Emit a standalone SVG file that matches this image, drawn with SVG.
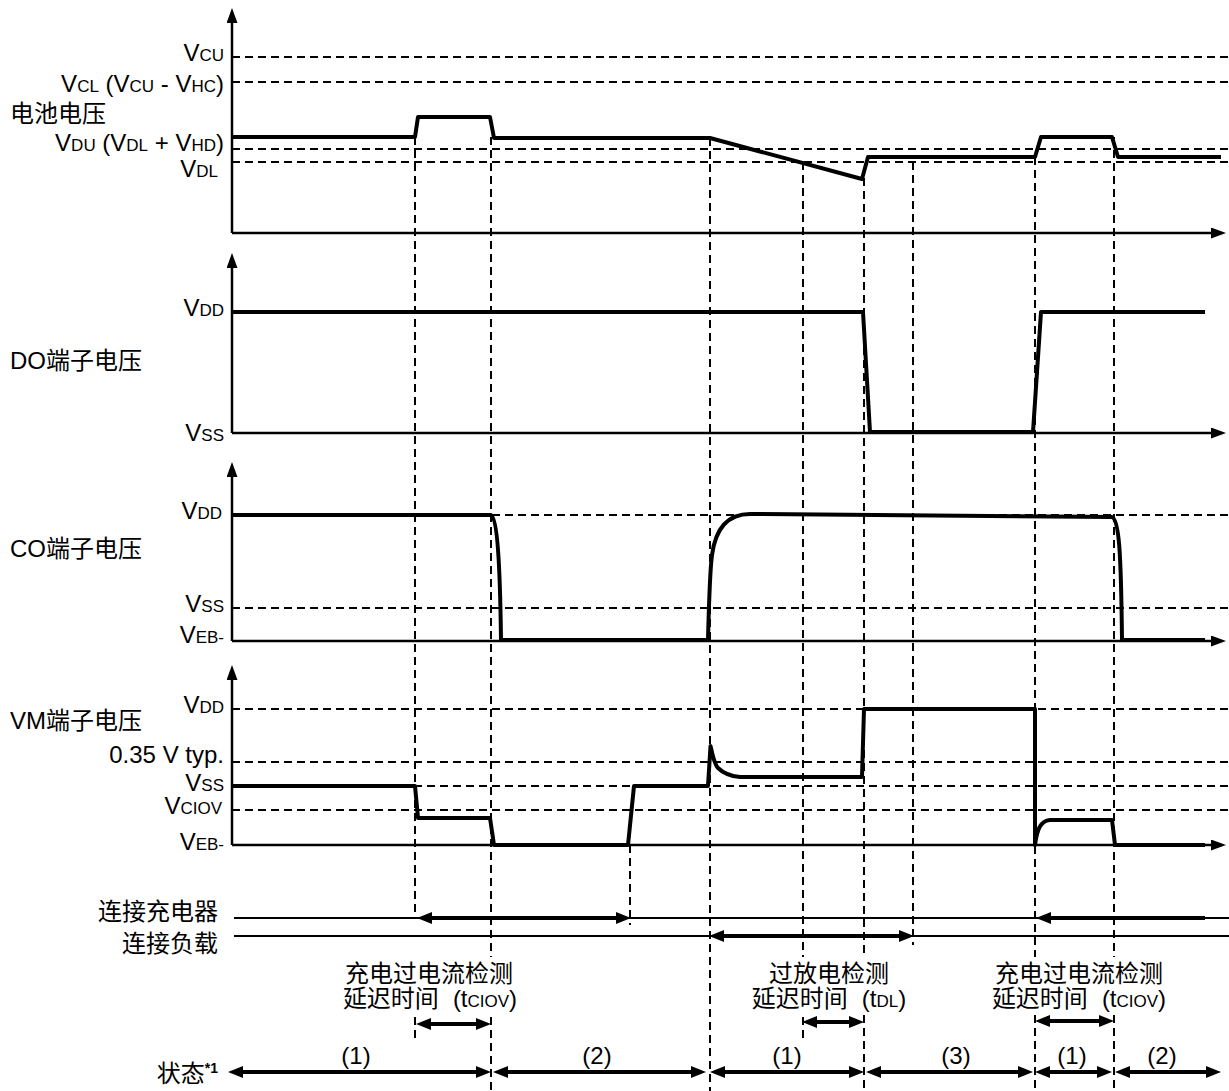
<svg xmlns="http://www.w3.org/2000/svg" width="1229" height="1091" viewBox="0 0 1229 1091">
<style>
.t{font-family:"Liberation Sans","Noto Sans CJK SC",sans-serif;font-size:24px;fill:#000}
.s{font-size:17px}
.axis{stroke:#000;stroke-width:2.5;fill:none}
.dash{stroke:#000;stroke-width:2;stroke-dasharray:8 5;fill:none}
.wave{stroke:#000;stroke-width:4;fill:none;stroke-linejoin:round}
.thin{stroke:#000;stroke-width:2;fill:none}
.arr{stroke:#000;stroke-width:4;fill:none;marker-start:url(#ah);marker-end:url(#ah)}
.arr1{stroke:#000;stroke-width:4;fill:none;marker-start:url(#ah)}
</style>
<defs>
<marker id="ah" markerUnits="userSpaceOnUse" markerWidth="16" markerHeight="12" refX="4" refY="6" orient="auto-start-reverse"><path d="M0,0 L15,6 L0,12 z" fill="#000"/></marker>
<marker id="ax" markerUnits="userSpaceOnUse" markerWidth="16" markerHeight="12" refX="3" refY="5.5" orient="auto"><path d="M0,0 L15,5.5 L0,11 z" fill="#000"/></marker>
</defs>
<rect width="1229" height="1091" fill="#fff"/>

<g id="guides">
<path class="dash" d="M232,57H1229M232,82H1229M232,149H1229M232,162H1229"/>
<path class="dash" d="M232,515H1229M232,608H1229"/>
<path class="dash" d="M232,709H1229M232,762H1229M232,786H1229M232,810H1229"/>
<path class="dash" d="M415,137V917M415,1017V1043M491,137V957M491,1017V1091M630,845V925M710,138V1091M803,162V957M803,1017V1043M864,178V957M864,1015V1091M913,162V945M1035,157V957M1035,1015V1091M1114,137V957M1114,1015V1091"/>
</g>

<g id="axes">
<path class="axis" d="M232,233V20" marker-end="url(#ax)"/>
<path class="axis" d="M232,233H1214" marker-end="url(#ax)"/>
<path class="axis" d="M232,433V265" marker-end="url(#ax)"/>
<path class="axis" d="M232,433H1214" marker-end="url(#ax)"/>
<path class="axis" d="M232,641V474" marker-end="url(#ax)"/>
<path class="axis" d="M232,641H1214" marker-end="url(#ax)"/>
<path class="axis" d="M232,845V677" marker-end="url(#ax)"/>
<path class="axis" d="M232,845H1214" marker-end="url(#ax)"/>
</g>

<g id="waveforms">
<path id="battery" class="wave" d="M232,137H415L418,117H490L494,138H710L862,179L868,157H1035L1041,137H1112L1118,157H1221"/>
<path id="do" class="wave" d="M232,312H863L870,432H1033L1041,312H1205"/>
<path id="co" class="wave" d="M232,515H491C497,518 500,560 501,640H708C709,600 710,570 712,555C716,525 730,514 750,514L1112,517C1119,520 1121,550 1122,640H1205"/>
<path id="vm" class="wave" d="M232,786H415L418,818H490L494,845H628L634,786H708L710.5,746C712,752 714,764 718,768C724,774 730,776 740,777H862L864,709H1035V845C1037,830 1040,821 1050,820H1112L1115,845H1205"/>
</g>

<g id="connectors">
<path class="thin" d="M234,918H1229M234,936H1229"/>
<path class="arr" d="M428,918H620"/>
<path class="arr1" d="M1047,918H1205"/>
<path class="arr" d="M720,936H903"/>
<path class="arr" d="M427,1024H480"/>
<path class="arr" d="M813,1022H853"/>
<path class="arr" d="M1046,1021H1103"/>
<path class="arr" d="M239,1072H480"/>
<path class="arr" d="M504,1072H695"/>
<path class="arr" d="M721,1072H853"/>
<path class="arr" d="M877,1072H1022"/>
<path class="arr" d="M1046,1072H1101"/>
<path class="arr" d="M1126,1072H1210"/>
</g>

<g id="labels" class="t">
<text x="224" y="61" text-anchor="end">V<tspan class="s">CU</tspan></text>
<text x="224" y="92" text-anchor="end">V<tspan class="s">CL</tspan> (V<tspan class="s">CU</tspan> - V<tspan class="s">HC</tspan>)</text>
<text x="10" y="122">电池电压</text>
<text x="224" y="151" text-anchor="end">V<tspan class="s">DU</tspan> (V<tspan class="s">DL</tspan> + V<tspan class="s">HD</tspan>)</text>
<text x="218" y="177" text-anchor="end">V<tspan class="s">DL</tspan></text>

<text x="224" y="316" text-anchor="end">V<tspan class="s">DD</tspan></text>
<text x="10" y="369">DO端子电压</text>
<text x="224" y="441" text-anchor="end">V<tspan class="s">SS</tspan></text>

<text x="222" y="519" text-anchor="end">V<tspan class="s">DD</tspan></text>
<text x="10" y="557">CO端子电压</text>
<text x="224" y="612" text-anchor="end">V<tspan class="s">SS</tspan></text>
<text x="224" y="643" text-anchor="end">V<tspan class="s">EB-</tspan></text>

<text x="224" y="713" text-anchor="end">V<tspan class="s">DD</tspan></text>
<text x="10" y="729">VM端子电压</text>
<text x="224" y="763" text-anchor="end">0.35 V typ.</text>
<text x="224" y="791" text-anchor="end">V<tspan class="s">SS</tspan></text>
<text x="222" y="814" text-anchor="end">V<tspan class="s">CIOV</tspan></text>
<text x="224" y="850" text-anchor="end">V<tspan class="s">EB-</tspan></text>

<text x="218" y="920" text-anchor="end">连接充电器</text>
<text x="218" y="952" text-anchor="end">连接负载</text>

<text x="429" y="982" text-anchor="middle">充电过电流检测</text>
<text x="430" y="1007" text-anchor="middle">延迟时间<tspan dx="14">(t</tspan><tspan class="s">CIOV</tspan>)</text>
<text x="829" y="982" text-anchor="middle">过放电检测</text>
<text x="829" y="1007" text-anchor="middle">延迟时间<tspan dx="14">(t</tspan><tspan class="s">DL</tspan>)</text>
<text x="1079" y="982" text-anchor="middle">充电过电流检测</text>
<text x="1079" y="1007" text-anchor="middle">延迟时间<tspan dx="14">(t</tspan><tspan class="s">CIOV</tspan>)</text>

<text x="218" y="1082" text-anchor="end">状态<tspan font-size="14" font-weight="bold" dy="-9">*1</tspan></text>
<text x="356" y="1064" text-anchor="middle">(1)</text>
<text x="597" y="1064" text-anchor="middle">(2)</text>
<text x="787" y="1064" text-anchor="middle">(1)</text>
<text x="956" y="1064" text-anchor="middle">(3)</text>
<text x="1072" y="1064" text-anchor="middle">(1)</text>
<text x="1162" y="1064" text-anchor="middle">(2)</text>
</g>
</svg>
